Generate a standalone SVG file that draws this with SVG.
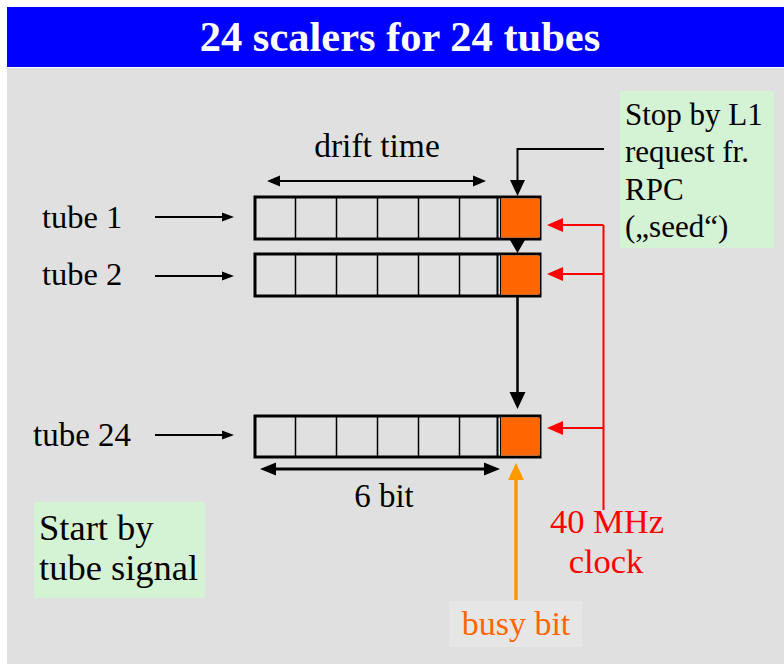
<svg xmlns="http://www.w3.org/2000/svg" width="784" height="664" viewBox="0 0 784 664">
<style>
.t{font-family:'Liberation Serif','Times New Roman',Times,'DejaVu Serif',serif;fill:#000}
.reg{fill:#e0e0e0;stroke:#000;stroke-width:3}
.div{stroke:#000;stroke-width:1.5}
.busy{fill:#ff6600}
.blk{stroke:#000;fill:none}
.red{stroke:#ff0000;fill:none;stroke-width:2}
</style>
<rect x="0" y="0" width="784" height="664" fill="#ffffff"/>
<rect x="7" y="68" width="777" height="596" fill="#e0e0e0"/>
<g id="title">
<rect x="7" y="7" width="777" height="60" fill="#0000ff"/>
<text class="t" x="400" y="51" font-size="42.5" font-weight="bold" text-anchor="middle" style="fill:#fff">24 scalers for 24 tubes</text>
</g>
<g id="row1">
<rect class="reg" x="255" y="197" width="285" height="42"/>
<rect class="busy" x="501" y="198.5" width="39" height="39"/>
<path class="div" d="M295.5 198V238M336.5 198V238M377.5 198V238M418.5 198V238M459.5 198V238"/>
<path d="M497.5 198V238" stroke="#000" stroke-width="2"/>
<path d="M500.5 198V238" stroke="#000" stroke-width="1"/>
</g>
<g id="row2">
<rect class="reg" x="255" y="254" width="285" height="42"/>
<rect class="busy" x="501" y="255.5" width="39" height="39"/>
<path class="div" d="M295.5 255V295M336.5 255V295M377.5 255V295M418.5 255V295M459.5 255V295"/>
<path d="M497.5 255V295" stroke="#000" stroke-width="2"/>
<path d="M500.5 255V295" stroke="#000" stroke-width="1"/>
</g>
<g id="row24">
<rect class="reg" x="255" y="416" width="285" height="41"/>
<rect class="busy" x="501" y="417.5" width="39" height="38"/>
<path class="div" d="M295.5 417V456M336.5 417V456M377.5 417V456M418.5 417V456M459.5 417V456"/>
<path d="M497.5 417V456" stroke="#000" stroke-width="2"/>
<path d="M500.5 417V456" stroke="#000" stroke-width="1"/>
</g>
<g id="label-tube1"><text class="t" x="42" y="228" font-size="32.5">tube 1</text></g>
<g id="label-tube2"><text class="t" x="42" y="285" font-size="32.5">tube 2</text></g>
<g id="label-tube24"><text class="t" x="33" y="446" font-size="33">tube 24</text></g>
<g id="label-drift"><text class="t" x="377" y="157" font-size="33.5" text-anchor="middle">drift time</text></g>
<g id="label-6bit"><text class="t" x="384" y="507" font-size="33" text-anchor="middle">6 bit</text></g>
<g id="stop-box">
<rect x="620" y="91" width="154" height="157" fill="#d4f2d4"/>
<text class="t" x="625" y="125" font-size="31">Stop by L1</text>
<text class="t" x="625" y="162" font-size="31">request fr.</text>
<text class="t" x="625" y="200" font-size="31">RPC</text>
<text class="t" x="625" y="237" font-size="31">(„seed“)</text>
</g>
<g id="start-box">
<rect x="34" y="502" width="171" height="96" fill="#d4f2d4"/>
<text class="t" x="39" y="540" font-size="36.5">Start by</text>
<text class="t" x="39" y="580" font-size="36.5">tube signal</text>
</g>
<g id="clock-label">
<text class="t" x="607" y="533" font-size="34.5" text-anchor="middle" style="fill:#ff0000">40 MHz</text>
<text class="t" x="606" y="573" font-size="34.5" text-anchor="middle" style="fill:#ff0000">clock</text>
</g>
<g id="busy-label">
<rect x="449" y="601" width="133" height="46" fill="#e6e6e6"/>
<text class="t" x="516" y="635" font-size="34" text-anchor="middle" style="fill:#ff6600">busy bit</text>
</g>
<g id="connectors">
<path class="blk" stroke-width="2" d="M155 217H224M155 276H224M155 435H224"/>
<path d="M234 217L222 212.5V221.5ZM234 276L222 271.5V280.5ZM234 435L222 430.5V439.5Z" fill="#000"/>
<path class="blk" stroke-width="2" d="M276 181H477"/>
<path d="M267 181L280 175.5V186.5ZM486 181L473 175.5V186.5Z" fill="#000"/>
<path class="blk" stroke-width="3" d="M272 469H488"/>
<path d="M260 469L276 462.5V475.5ZM500 469L484 462.5V475.5Z" fill="#000"/>
<path class="blk" stroke-width="2" d="M604 149H517.5V182"/>
<path d="M517.5 196L510 180H525Z" fill="#000"/>
<path class="blk" stroke-width="2" d="M517.5 240V242"/>
<path d="M517.5 253L510 240H525Z" fill="#000"/>
<path class="blk" stroke-width="2.5" d="M517.5 297V394"/>
<path d="M517.5 409L509.5 392H525.5Z" fill="#000"/>
<path class="red" d="M603.5 510V225M603.5 225H557M603.5 274H557M603.5 428H557"/>
<path d="M547 225L563 218V232ZM547 274L563 267V281ZM547 428L563 421V435Z" fill="#ff0000"/>
<path d="M516 600V478" stroke="#ff9900" stroke-width="3.5" fill="none"/>
<path d="M516 463L508 480H524Z" fill="#ff9900"/>
</g>
</svg>
